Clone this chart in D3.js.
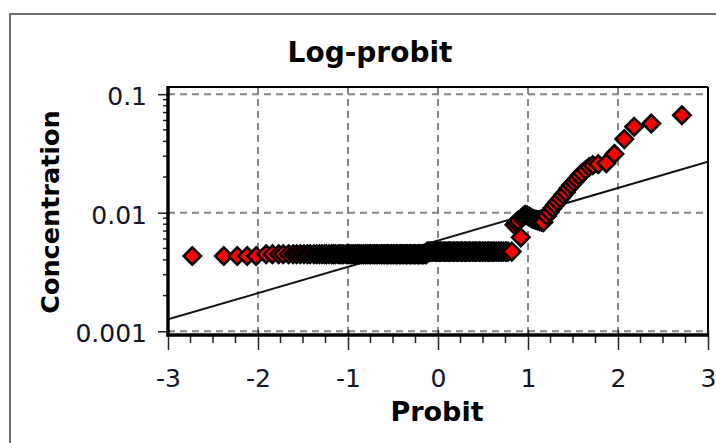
<!DOCTYPE html>
<html><head><meta charset="utf-8">
<script src="https://cdn.jsdelivr.net/npm/d3@7"></script>
<style>html,body{margin:0;padding:0;background:#fff;} svg{display:block}</style>
</head><body>
<svg id="chart" width="716" height="443"></svg>
<script>
const title = "Log-probit";
const xLabel = "Probit";
const yLabel = "Concentration";
const xTicks = [-3, -2, -1, 0, 1, 2, 3];
const xTickLabels = ["-3", "-2", "-1", "0", "1", "2", "3"];
const yTicks = [0.001, 0.01, 0.1];
const yTickLabels = ["0.001", "0.01", "0.1"];

// Lower tail (sparse points)
const lowProbit = [-2.73, -2.38, -2.23, -2.12, -2.02];
const lowConc = [0.00431, 0.00431, 0.00431, 0.00431, 0.00431];
// Dense band, first part
const bandAProbit = [
  -1.91,-1.84,-1.77,-1.72,-1.66,-1.61,-1.57,-1.53,-1.49,-1.45,
  -1.42,-1.38,-1.35,-1.32,-1.29,-1.26,-1.24,-1.21,-1.18,-1.16,
  -1.14,-1.11,-1.09,-1.07,-1.05,-1.02,-1.00,-0.98,-0.96,-0.94,
  -0.92,-0.90,-0.89,-0.87,-0.85,-0.83,-0.81,-0.80,-0.78,-0.76,
  -0.75,-0.73,-0.71,-0.70,-0.68,-0.67,-0.65,-0.63,-0.62,-0.60,
  -0.59,-0.57,-0.56,-0.55,-0.53,-0.52,-0.50,-0.49,-0.47,-0.46,
  -0.45,-0.43,-0.42,-0.41,-0.39,-0.38,-0.36,-0.35,-0.34,-0.32,
  -0.31,-0.30,-0.29,-0.27,-0.26,-0.25,-0.23,-0.22,-0.21,-0.20,
  -0.18,-0.17,-0.16,-0.14,-0.13];
const bandAConc = [
  0.00447,0.00447,0.00447,0.00447,0.00447,0.00447,0.00447,0.00447,0.00447,0.00447,
  0.00447,0.00447,0.00447,0.00447,0.00447,0.00447,0.00447,0.00447,0.00447,0.00447,
  0.00447,0.00447,0.00447,0.00447,0.00447,0.00447,0.00447,0.00447,0.00447,0.00447,
  0.00447,0.00447,0.00447,0.00447,0.00447,0.00447,0.00447,0.00447,0.00447,0.00447,
  0.00447,0.00447,0.00447,0.00447,0.00447,0.00447,0.00447,0.00447,0.00447,0.00447,
  0.00447,0.00447,0.00447,0.00447,0.00447,0.00447,0.00447,0.00447,0.00447,0.00447,
  0.00447,0.00447,0.00447,0.00447,0.00447,0.00447,0.00447,0.00447,0.00447,0.00447,
  0.00447,0.00447,0.00447,0.00447,0.00447,0.00447,0.00447,0.00447,0.00447,0.00447,
  0.00447,0.00447,0.00447,0.00447,0.00447];
// Dense band, second part
const bandBProbit = [
  -0.12,-0.11,-0.09,-0.08,-0.07,-0.06,-0.04,-0.03,-0.02,-0.01,
  0.01,0.02,0.03,0.04,0.06,0.07,0.08,0.09,0.11,0.12,
  0.13,0.14,0.16,0.17,0.18,0.20,0.21,0.22,0.23,0.25,
  0.26,0.27,0.29,0.30,0.31,0.32,0.34,0.35,0.36,0.38,
  0.39,0.41,0.42,0.43,0.45,0.46,0.47,0.49,0.50,0.52,
  0.53,0.55,0.56,0.57,0.59,0.60,0.62,0.63,0.65,0.67,
  0.68,0.70,0.71,0.73,0.75,0.76,0.78];
const bandBConc = [
  0.0047,0.0047,0.0047,0.0047,0.0047,0.0047,0.0047,0.0047,0.0047,0.0047,
  0.0047,0.0047,0.0047,0.0047,0.0047,0.0047,0.0047,0.0047,0.0047,0.0047,
  0.0047,0.0047,0.0047,0.0047,0.0047,0.0047,0.0047,0.0047,0.0047,0.0047,
  0.0047,0.0047,0.0047,0.0047,0.0047,0.0047,0.0047,0.0047,0.0047,0.0047,
  0.0047,0.0047,0.0047,0.0047,0.0047,0.0047,0.0047,0.0047,0.0047,0.0047,
  0.0047,0.0047,0.0047,0.0047,0.0047,0.0047,0.0047,0.0047,0.0047,0.0047,
  0.0047,0.0047,0.0047,0.0047,0.0047,0.0047,0.0047];
// Upper tail
const highProbit = [
  0.82,0.85,0.87,0.89,0.92,
  0.93,0.95,0.97,0.99,1.01,1.03,1.05,1.07,1.09,1.11,1.13,1.15,1.17,
  1.21,1.24,1.27,1.30,1.33,1.36,1.39,1.42,1.45,1.48,1.51,1.54,1.57,1.60,
  1.64,1.68,1.72,1.78,1.87,1.96,2.07,2.18,2.37,2.71];
const highConc = [
  0.0047,0.0079,0.0083,0.0086,0.0062,
  0.0090,0.0094,0.0096,0.0095,0.0093,0.0091,0.0089,0.0088,0.0087,0.0086,0.0085,0.0084,0.0083,
  0.0094,0.0101,0.0109,0.0116,0.0124,0.0132,0.0141,0.0149,0.0161,0.0171,0.0181,0.0192,0.0204,0.0216,
  0.0229,0.0243,0.0252,0.0257,0.0262,0.0313,0.0418,0.0531,0.0566,0.0665];

// Fitted log-normal line
const fitProbit = [-3, 3];
const fitConc = [0.00126, 0.0269];

const probit = [].concat(lowProbit, bandAProbit, bandBProbit, highProbit);
const concentration = [].concat(lowConc, bandAConc, bandBConc, highConc);
const points = probit.map((p, i) => ({p, c: concentration[i]}));

const svg = d3.select("#chart");
const pLeft = 168, pRight = 708, pTop = 87, pBottom = 335;
const x = d3.scaleLinear().domain([-3, 3]).range([pLeft, pRight]);
const y = d3.scaleLog().domain([0.00093, 0.115]).range([pBottom, pTop]);

svg.append("rect").attr("width", 716).attr("height", 443).attr("fill", "#fff");
// outer panel border
svg.append("rect").attr("x", 10).attr("y", 14).attr("width", 740).attr("height", 460)
  .attr("fill", "none").attr("stroke", "#6e6e6e").attr("stroke-width", 2);

const txtColor = "#141428";
const font = "'DejaVu Sans', Verdana, sans-serif";

// title
svg.append("text").attr("x", 370).attr("y", 62).attr("text-anchor", "middle")
  .attr("font-family", font).attr("font-weight", "bold").attr("font-size", 28)
  .attr("fill", "#000").text(title);

// grid
const grid = svg.append("g").attr("stroke", "#858585").attr("stroke-width", 2)
  .attr("stroke-dasharray", "7,5").attr("fill", "none");
grid.selectAll("line.gx").data(xTicks).join("line").attr("class", "gx")
  .attr("x1", d => x(d)).attr("x2", d => x(d)).attr("y1", pTop).attr("y2", pBottom);
grid.selectAll("line.gy").data(yTicks).join("line").attr("class", "gy")
  .attr("y1", d => y(d)).attr("y2", d => y(d)).attr("x1", pLeft).attr("x2", pRight);

// clip
svg.append("clipPath").attr("id", "plotclip").append("rect")
  .attr("x", pLeft).attr("y", pTop).attr("width", pRight - pLeft).attr("height", pBottom - pTop);

// fit line
const line = d3.line().x(d => x(d[0])).y(d => y(d[1]));
svg.append("path").attr("clip-path", "url(#plotclip)")
  .datum(fitProbit.map((p, i) => [p, fitConc[i]]))
  .attr("d", line).attr("fill", "none").attr("stroke", "#111").attr("stroke-width", 2);

// points (diamonds)
const r = 8.7;
const diamond = `M0,${-r}L${r},0L0,${r}L${-r},0Z`;
svg.append("g").selectAll("path").data(points).join("path")
  .attr("d", diamond)
  .attr("transform", d => `translate(${x(d.p)},${y(d.c)})`)
  .attr("fill", "#ff0000").attr("stroke", "#000").attr("stroke-width", 2.6)
  .attr("stroke-linejoin", "miter");

// frame
svg.append("line").attr("x1", pLeft).attr("x2", pRight).attr("y1", pTop).attr("y2", pTop)
  .attr("stroke", "#000").attr("stroke-width", 2);
svg.append("line").attr("x1", pRight).attr("x2", pRight).attr("y1", pTop).attr("y2", pBottom)
  .attr("stroke", "#000").attr("stroke-width", 2);

// x axis
const xAxis = d3.axisBottom(x).tickValues(xTicks).tickSize(20).tickPadding(19)
  .tickFormat((d, i) => xTickLabels[i]);
const gx = svg.append("g").attr("transform", `translate(0,${pBottom - 5})`).call(xAxis);
gx.select(".domain").remove();
gx.selectAll(".tick line").attr("stroke", "#222").attr("stroke-width", 1.5);
gx.selectAll(".tick text").attr("font-family", font).attr("font-size", 25).attr("fill", txtColor);
// x minor ticks
const xMinor = d3.range(-3, 3.001, 0.25).filter(v => Math.abs(v - Math.round(v)) > 1e-6);
svg.append("g").selectAll("line").data(xMinor).join("line")
  .attr("x1", d => x(d)).attr("x2", d => x(d)).attr("y1", pBottom).attr("y2", pBottom + 8)
  .attr("stroke", "#222").attr("stroke-width", 1.5);

// y axis
const yAxis = d3.axisLeft(y).tickValues(yTicks).tickSize(10).tickPadding(11)
  .tickFormat((d, i) => yTickLabels[i]);
const gy = svg.append("g").attr("transform", `translate(${pLeft},0)`).call(yAxis);
gy.select(".domain").remove();
gy.selectAll(".tick line").attr("stroke", "#222").attr("stroke-width", 1.5);
gy.selectAll(".tick text").attr("font-family", font).attr("font-size", 25).attr("fill", txtColor)
  .attr("dy", "0.42em");
// y minor ticks
const yMinor = y.ticks().filter(v => yTicks.indexOf(v) < 0);
svg.append("g").selectAll("line").data(yMinor).join("line")
  .attr("x1", pLeft - 5).attr("x2", pLeft).attr("y1", d => y(d)).attr("y2", d => y(d))
  .attr("stroke", "#222").attr("stroke-width", 1.5);

// thick axes lines
svg.append("line").attr("x1", pLeft).attr("x2", pLeft).attr("y1", pTop - 1).attr("y2", pBottom + 1.5)
  .attr("stroke", "#000").attr("stroke-width", 3.5);
svg.append("line").attr("x1", pLeft - 1.5).attr("x2", pRight + 1).attr("y1", pBottom).attr("y2", pBottom)
  .attr("stroke", "#000").attr("stroke-width", 3.5);

// axis titles
svg.append("text").attr("x", 437).attr("y", 421).attr("text-anchor", "middle")
  .attr("font-family", font).attr("font-weight", "bold").attr("font-size", 27)
  .attr("fill", "#000").text(xLabel);
svg.append("text").attr("transform", "translate(59,212) rotate(-90)").attr("text-anchor", "middle")
  .attr("font-family", font).attr("font-weight", "bold").attr("font-size", 25.5)
  .attr("fill", "#000").text(yLabel);
</script>
</body></html>
